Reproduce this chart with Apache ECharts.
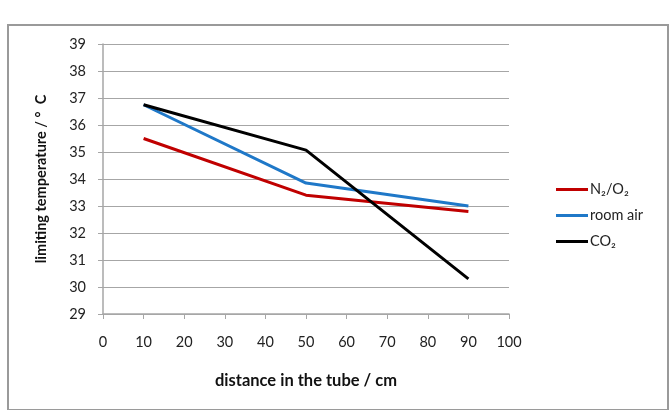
<!DOCTYPE html>
<html>
<head>
<meta charset="utf-8">
<script src="https://cdn.jsdelivr.net/npm/echarts@6/dist/echarts.min.js"></script>
<style>
  html, body { margin: 0; padding: 0; background: #fff; }
  #frame { position: absolute; left: 7px; top: 24px; width: 658px; height: 383px; border: 2px solid #9a9a9a; border-bottom-width: 1px; }
  #chart { position: absolute; left: 0; top: 0; width: 671px; height: 410px; }
</style>
</head>
<body>
<div id="frame"></div>
<div id="chart"></div>
<script>
// distance in the tube (cm)
const distance = [10, 50, 90]
// limiting temperature (°C)
const n2o2 = [35.5, 33.4, 32.8]
const roomAir = [36.75, 33.85, 33.0]
const co2 = [36.75, 35.07, 30.3]

const names = ['N₂/O₂', 'room air', 'CO₂']
const colors = ['#c00000', '#1f78c8', '#000000']

const pairs = arr => distance.map((d, i) => [d, arr[i]])

let option = {
    animation: false,
    textStyle: { fontFamily: 'Lato, "Open Sans", sans-serif' },
    grid: { left: 103, top: 44, width: 406, height: 270 },
    legend: {
        orient: 'vertical',
        left: 551,
        top: 177,
        itemGap: 11,
        itemWidth: 32,
        itemHeight: 3,
        icon: 'rect',
        textStyle: { fontSize: 14.5, color: '#222', padding: [0, 0, 0, -3] },
        data: names
    },
    xAxis: {
        type: 'value',
        min: 0, max: 100, interval: 10,
        name: 'distance in the tube / cm',
        nameLocation: 'middle',
        nameGap: 58,
        nameTextStyle: { fontSize: 16.5, fontWeight: 'bold', color: '#111' },
        axisLine: { lineStyle: { color: '#a6a6a6', width: 1.5 } },
        axisTick: { show: true, length: 5, lineStyle: { color: '#a6a6a6' } },
        axisLabel: { fontSize: 14.5, color: '#222', margin: 21 },
        splitLine: { show: false }
    },
    yAxis: {
        type: 'value',
        min: 29, max: 39, interval: 1,
        name: 'limiting temperature / °  C',
        nameLocation: 'middle',
        nameGap: 54,
        nameRotate: 90,
        nameTextStyle: { fontSize: 14.5, fontWeight: 'bold', color: '#111' },
        axisLine: { show: true, lineStyle: { color: '#a6a6a6', width: 1.5 } },
        axisTick: { show: true, length: 5, lineStyle: { color: '#a6a6a6' } },
        axisLabel: { fontSize: 14.5, color: '#222', margin: 17 },
        splitLine: { lineStyle: { color: '#a6a6a6', width: 1 } }
    },
    series: [n2o2, roomAir, co2].map((arr, i) => ({
        name: names[i],
        type: 'line',
        data: pairs(arr),
        symbol: 'none',
        lineStyle: { color: colors[i], width: 3 },
        itemStyle: { color: colors[i] }
    }))
}

const chart = echarts.init(document.getElementById('chart'))
chart.setOption(option)
</script>
</body>
</html>
